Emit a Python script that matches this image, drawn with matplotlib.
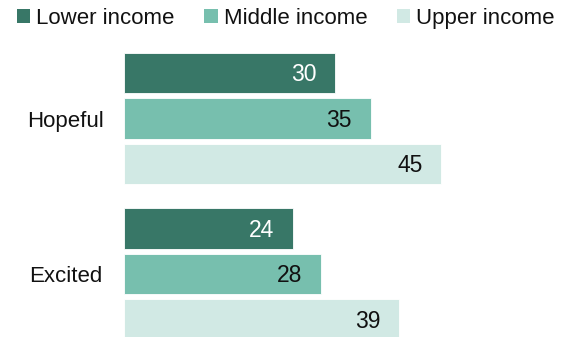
import matplotlib
matplotlib.use("Agg")
import matplotlib.pyplot as plt
from matplotlib.patches import Patch

plt.rcParams['font.family'] = ['Liberation Sans', 'DejaVu Sans']

categories = ["Hopeful", "Excited"]
series_names = ["Lower income", "Middle income", "Upper income"]
lower = [30, 24]
middle = [35, 28]
upper = [45, 39]
series_values = [lower, middle, upper]

colors = ["#387767", "#77bfae", "#d1e9e4"]
label_colors = ["white", "#111111", "#111111"]

fig = plt.figure(figsize=(5.64, 3.37), dpi=100)
ax = fig.add_axes([124 / 564, 0, 422.6 / 564, 1])

group_gap = 3.42
bar_h = 0.89
centers = [i * group_gap for i in range(len(categories))]

for s, (vals, col, lc) in enumerate(zip(series_values, colors, label_colors)):
    ys = [c + (s - 1) for c in centers]
    ax.barh(ys, vals, height=bar_h, color=col, edgecolor="white", linewidth=0.6)
    for y, v in zip(ys, vals):
        ax.annotate(f"{v}", xy=(v, y), xytext=(-13.3, -1), textcoords="offset points",
                    ha="right", va="center", fontsize=16.5, color=lc)

ax.set_xlim(0, 60)
ax.set_ylim(4.80, -2.607)
ax.set_yticks(centers)
ax.set_yticklabels(categories, fontsize=16, ha="center", color="#111111")
ax.tick_params(axis="y", length=0, pad=41.8)
ax.set_xticks([])
for sp in ax.spines.values():
    sp.set_visible(False)

handles = [Patch(facecolor=c, edgecolor="none") for c in colors]
fig.legend(handles, series_names, loc="upper left", bbox_to_anchor=(17 / 564, 1 - 8 / 337),
           ncol=3, frameon=False, fontsize=16, handlelength=0.59, handleheight=0.59,
           handletextpad=0.27, columnspacing=1.35, borderaxespad=0, borderpad=0,
           labelcolor="#111111")

fig.savefig("out.png", dpi=100)
